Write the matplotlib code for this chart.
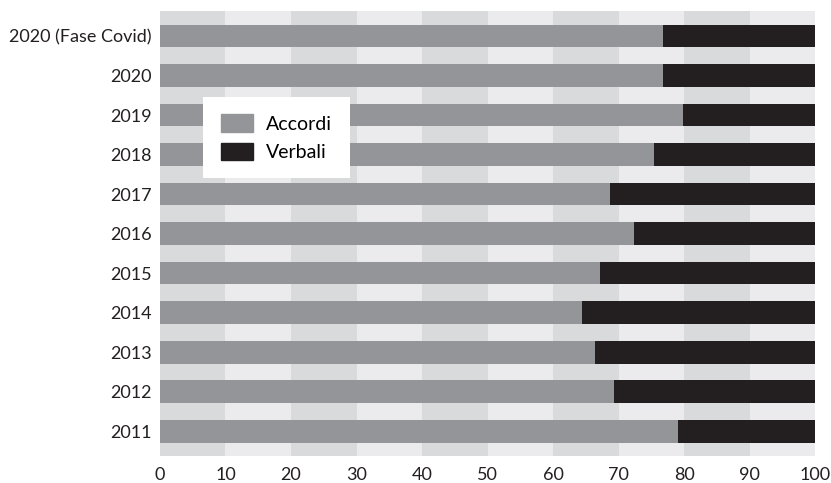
import matplotlib.pyplot as plt
from matplotlib.patches import Patch

plt.rcParams['font.family'] = ['Lato', 'DejaVu Sans']

anni = ['2011', '2012', '2013', '2014', '2015', '2016', '2017', '2018', '2019', '2020', '2020 (Fase Covid)']
accordi = [79.0, 69.3, 66.4, 64.4, 67.2, 72.4, 68.7, 75.4, 79.8, 76.7, 76.7]
verbali = [100 - a for a in accordi]

col_accordi = '#939598'
col_verbali = '#231f20'

fig, ax = plt.subplots(figsize=(8.31, 4.83), dpi=100)
fig.subplots_adjust(left=0.1925, right=0.981, top=0.977, bottom=0.056)

# fasce verticali alternate ogni 10 punti
for i, x0 in enumerate(range(0, 100, 10)):
    ax.axvspan(x0, x0 + 10, color='#d9dadc' if i % 2 == 0 else '#ebebed', lw=0, zorder=0)

y = range(len(anni))
ax.barh(y, accordi, height=0.58, color=col_accordi, zorder=2)
ax.barh(y, verbali, left=accordi, height=0.58, color=col_verbali, zorder=2)

ax.set_xlim(0, 100)
ax.set_ylim(-0.63, len(anni) - 0.37)
ax.set_xticks(range(0, 101, 10))
ax.set_yticks(list(y))
ax.set_yticklabels(anni)
ax.tick_params(length=0, labelsize=13, colors='#231f20')
ax.tick_params(axis='x', pad=8)
ax.tick_params(axis='y', pad=6)
for s in ax.spines.values():
    s.set_visible(False)

handles = [Patch(color=col_accordi, label='Accordi'), Patch(color=col_verbali, label='Verbali')]
leg = ax.legend(handles=handles, loc='upper left', bbox_to_anchor=(0.066, 0.807),
                borderaxespad=0, fancybox=False, framealpha=1, edgecolor='none',
                fontsize=14, handlelength=1.65, handleheight=1.0, borderpad=0.9,
                labelspacing=0.5, handletextpad=0.7)
leg.get_frame().set_facecolor('white')
leg.set_zorder(5)

plt.savefig('out.png', dpi=100)
